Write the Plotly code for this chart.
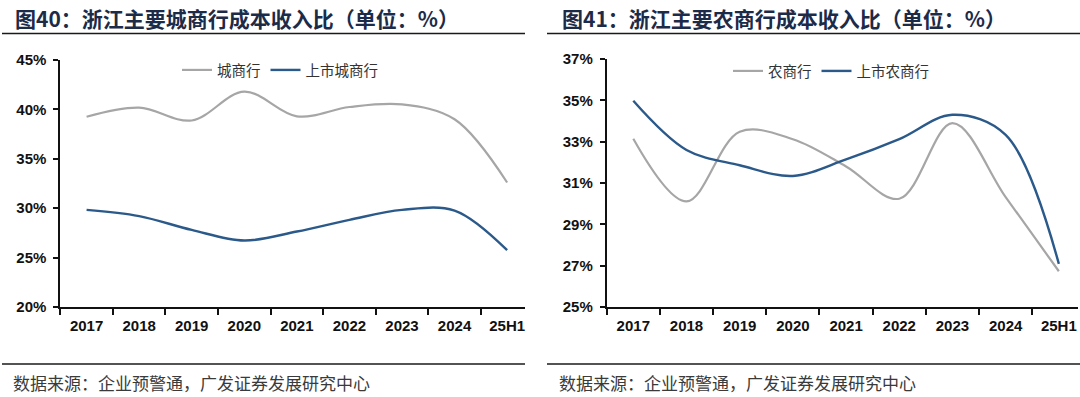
import plotly.graph_objects as go

# ---------------- data ----------------
years = ["2017", "2018", "2019", "2020", "2021", "2022", "2023", "2024", "25H1"]

city_all = [39.25, 40.17, 38.88, 41.8, 39.3, 40.24, 40.5, 39.0, 32.6]
city_listed = [29.83, 29.2, 27.8, 26.73, 27.64, 28.82, 29.83, 29.76, 25.75]

rural_all = [33.14, 30.11, 33.48, 33.12, 31.8, 30.24, 33.9, 30.32, 26.73]
rural_listed = [34.98, 32.6, 31.86, 31.34, 32.14, 33.12, 34.3, 33.33, 27.09]

left_title = "图<b>40</b>：浙江主要城商行成本收入比（单位：%）"
right_title = "图<b>41</b>：浙江主要农商行成本收入比（单位：%）"
source_text = "数据来源：企业预警通，广发证券发展研究中心"

left_names = ["城商行", "上市城商行"]
right_names = ["农商行", "上市农商行"]

# ---------------- style ----------------
W, H = 1080, 397
GRAY = "#A6A6A6"
BLUE = "#2B5A8A"
TITLE_C = "#1C2B48"
CJK = "Noto Sans CJK SC"
NUM = "Liberation Sans, Arial"


def px(x):
    return x / W


def py(y):
    return 1 - y / H


fig = go.Figure()

fig.add_trace(go.Scatter(x=years, y=city_all, name=left_names[0], mode="lines",
                         line=dict(color=GRAY, width=2.2, shape="spline", smoothing=1),
                         xaxis="x", yaxis="y", legend="legend"))
fig.add_trace(go.Scatter(x=years, y=city_listed, name=left_names[1], mode="lines",
                         line=dict(color=BLUE, width=2.4, shape="spline", smoothing=1),
                         xaxis="x", yaxis="y", legend="legend"))
fig.add_trace(go.Scatter(x=years, y=rural_all, name=right_names[0], mode="lines",
                         line=dict(color=GRAY, width=2.2, shape="spline", smoothing=1),
                         xaxis="x2", yaxis="y2", legend="legend2"))
fig.add_trace(go.Scatter(x=years, y=rural_listed, name=right_names[1], mode="lines",
                         line=dict(color=BLUE, width=2.4, shape="spline", smoothing=1),
                         xaxis="x2", yaxis="y2", legend="legend2"))

tickfont = dict(family=NUM, size=15, color="#111111", weight="bold")

xcommon = dict(type="category", tickson="boundaries", ticks="outside", ticklen=6,
               tickwidth=1.5, tickcolor="#111111", showline=True, linecolor="#111111",
               linewidth=1.8, showgrid=False, zeroline=False, tickfont=tickfont,
               ticklabelstandoff=4, fixedrange=True, automargin=False)
ycommon = dict(ticks="outside", ticklen=5, tickwidth=1.5, tickcolor="#111111",
               showline=True, linecolor="#111111", linewidth=1.8, showgrid=False,
               zeroline=False, ticksuffix="%", tickfont=tickfont, fixedrange=True,
               ticklabelstandoff=4, automargin=False)

fig.update_layout(
    template="none",
    width=W, height=H, margin=dict(l=0, r=0, t=0, b=0, pad=0), autosize=False,
    paper_bgcolor="white", plot_bgcolor="white", showlegend=True,
    xaxis=dict(xcommon, domain=[px(60.3), px(525)], range=[-0.5, 8.34], anchor="y"),
    yaxis=dict(ycommon, domain=[py(307), py(60)], range=[20, 45], dtick=5, tick0=20, anchor="x"),
    xaxis2=dict(xcommon, domain=[px(606.7), px(1078)], range=[-0.5, 8.36], anchor="y2"),
    yaxis2=dict(ycommon, domain=[py(307), py(59)], range=[25, 37], dtick=2, tick0=25, anchor="x2"),
    legend=dict(orientation="h", x=px(280), y=py(70), xanchor="center", yanchor="middle",
                bgcolor="rgba(0,0,0,0)", font=dict(family=CJK, size=14.5, color="#333333"),
                itemwidth=30, tracegroupgap=0),
    legend2=dict(orientation="h", x=px(831), y=py(71), xanchor="center", yanchor="middle",
                 bgcolor="rgba(0,0,0,0)", font=dict(family=CJK, size=14.5, color="#333333"),
                 itemwidth=30, tracegroupgap=0),
)

annotations = [
    dict(text=left_title, x=px(13), y=py(18.3), xref="paper", yref="paper",
         xanchor="left", yanchor="middle", showarrow=False,
         font=dict(family=CJK, size=21, color=TITLE_C, weight="bold")),
    dict(text=right_title, x=px(560), y=py(18.3), xref="paper", yref="paper",
         xanchor="left", yanchor="middle", showarrow=False,
         font=dict(family=CJK, size=21, color=TITLE_C, weight="bold")),
    dict(text=source_text, x=px(11), y=py(382.7), xref="paper", yref="paper",
         xanchor="left", yanchor="middle", showarrow=False,
         font=dict(family=CJK, size=17, color="#3a3a3a")),
    dict(text=source_text, x=px(557), y=py(382.7), xref="paper", yref="paper",
         xanchor="left", yanchor="middle", showarrow=False,
         font=dict(family=CJK, size=17, color="#3a3a3a")),
]
fig.update_layout(annotations=annotations)

shapes = []
for (x0, x1) in [(2, 525), (547, 1080)]:
    for y in (33.5, 364):
        shapes.append(dict(type="line", xref="paper", yref="paper",
                           x0=px(x0), x1=px(x1), y0=py(y), y1=py(y),
                           line=dict(color="#1a1a1a", width=1.6)))
fig.update_layout(shapes=shapes)

fig.write_html("out.html",
               config={"displayModeBar": False, "staticPlot": False},
               post_script="document.body.style.margin='0';document.body.style.overflow='hidden';")
